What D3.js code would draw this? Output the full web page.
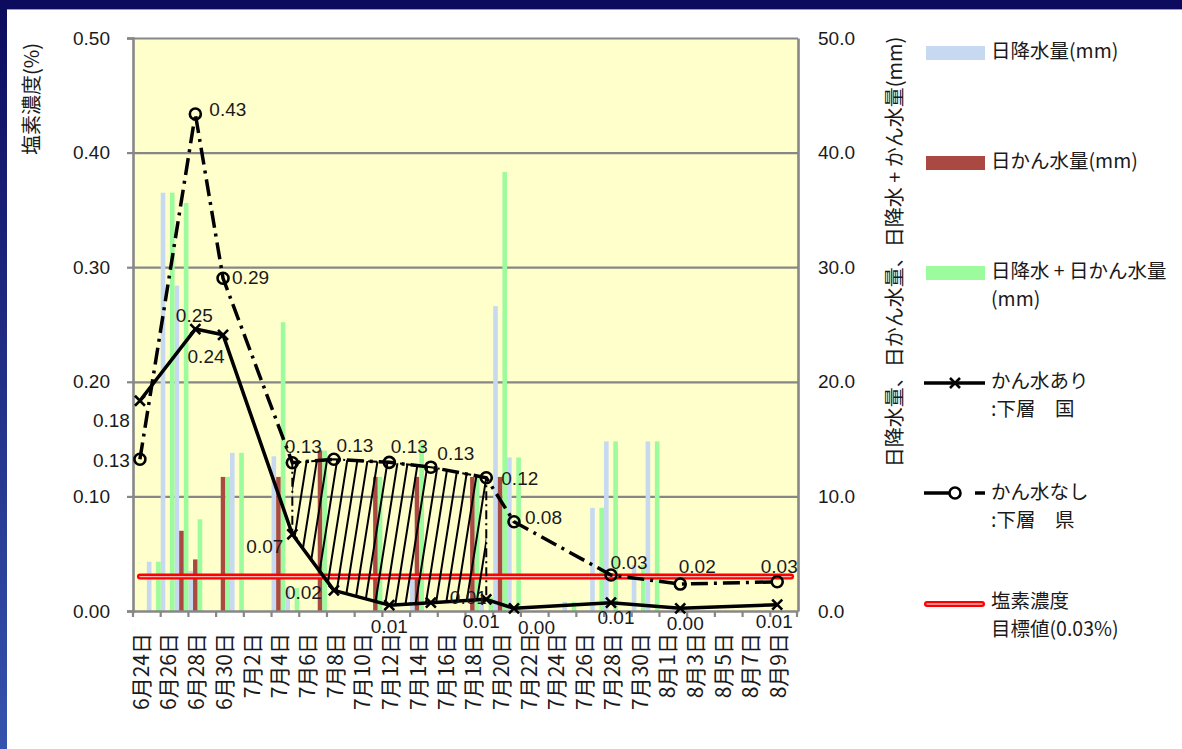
<!DOCTYPE html>
<html>
<head>
<meta charset="utf-8">
<script src="https://cdn.jsdelivr.net/npm/d3@7"></script>
<style>
  html, body { margin: 0; padding: 0; background: #ffffff; }
  svg { display: block; }
</style>
</head>
<body>
<svg id="chart" width="1182" height="749"></svg>
<script>
// ---- data -------------------------------------------------------------
const dates = [
  "6月24日","6月25日","6月26日","6月27日","6月28日","6月29日","6月30日",
  "7月1日","7月2日","7月3日","7月4日","7月5日","7月6日","7月7日","7月8日","7月9日",
  "7月10日","7月11日","7月12日","7月13日","7月14日","7月15日","7月16日","7月17日",
  "7月18日","7月19日","7月20日","7月21日","7月22日","7月23日","7月24日","7月25日",
  "7月26日","7月27日","7月28日","7月29日","7月30日","7月31日",
  "8月1日","8月2日","8月3日","8月4日","8月5日","8月6日","8月7日","8月8日","8月9日","8月10日"
];

// daily rainfall (mm)
const rainfall = [
  0, 4.3, 36.5, 28.4, 3.5, 0, 0,
  13.8, 0, 0, 13.5, 2.0, 0, 0, 0, 0,
  0, 0, 0, 0, 3.0, 0, 0, 0,
  0, 1.2, 26.6, 13.4, 0, 0, 0, 0.8,
  0, 9.0, 14.8, 0, 4.0, 14.8,
  0, 0, 0, 0, 0, 0, 0, 0, 0, 0
];

// daily irrigation (mm)
const irrigation = [
  0, 0, 0, 7.0, 4.5, 0, 11.7,
  0, 0, 0, 11.7, 0, 0, 14.0, 0, 0,
  0, 11.7, 0, 0, 11.7, 0, 0, 0,
  11.7, 0, 11.7, 0, 0, 0, 0, 0,
  0, 0, 0, 0, 0, 0,
  0, 0, 0, 0, 0, 0, 0, 0, 0, 0
];

// daily rainfall + irrigation (mm)
const totalWater = [
  0, 4.3, 36.5, 35.6, 8.0, 0, 11.7,
  13.8, 0, 0, 25.2, 2.0, 0, 14.0, 0, 0,
  0, 11.7, 0, 0, 14.6, 0, 0, 0,
  11.7, 1.2, 38.3, 13.4, 0, 0, 0, 0.8,
  0, 9.0, 14.8, 0, 4.0, 14.8,
  0, 0, 0, 0, 0, 0, 0, 0, 0, 0
];

// chloride concentration of the lower layer (%)
const sampleDates = ["6月24日","6月28日","6月30日","7月5日","7月8日","7月12日",
                     "7月15日","7月19日","7月21日","7月28日","8月2日","8月9日"];
const chlorideIrrigated    = [0.1835, 0.246, 0.241, 0.067, 0.018, 0.0051,
                              0.0073, 0.0102, 0.0023, 0.0073, 0.0023, 0.0055];
const chlorideNotIrrigated = [0.1324, 0.4337, 0.2903, 0.1294, 0.1324, 0.1297,
                              0.1255, 0.1163, 0.0779, 0.0314, 0.0235, 0.0255];

// target chloride level (%)
const targetLevel = 0.03;

// span of the shaded comparison band (index range in sampleDates)
const bandStart = 3, bandEnd = 7;

const leftTicks  = [0, 0.1, 0.2, 0.3, 0.4, 0.5];
const rightTicks = [0, 10, 20, 30, 40, 50];

const leftTitle  = "塩素濃度(%)";
const rightTitle = "日降水量、日かん水量、日降水 + かん水量(mm)";

// ---- layout -----------------------------------------------------------
const svg = d3.select("#chart");
const W = 1182, H = 749;
const M = { left: 133, right: 798, top: 38, bottom: 611 };
const JP = "'Noto Sans CJK JP', 'Noto Sans', sans-serif";
const NUM = "'Liberation Sans', Arial, sans-serif";
const TXT = "#1a1a1a";
const GRID = "#878787";

const colors = { rain: "#c6d9f1", irr: "#aa4842", total: "#9cfb9c" };

const x  = d3.scaleBand().domain(dates).range([M.left, M.right]).paddingInner(0).paddingOuter(0);
const xs = d3.scaleBand().domain(["rain", "irr", "total"]).range([0, x.bandwidth()]);
const yL = d3.scaleLinear().domain([0, 0.5]).range([M.bottom, M.top]);
const yR = d3.scaleLinear().domain([0, 50]).range([M.bottom, M.top]);
const cx = d => x(d) + x.bandwidth() / 2;

// ---- page frame -------------------------------------------------------
const defs = svg.append("defs");
const edge = defs.append("linearGradient").attr("id", "edge")
  .attr("x1", 0).attr("y1", 0).attr("x2", 0).attr("y2", 1);
edge.append("stop").attr("offset", "0%").attr("stop-color", "#0c0b5e");
edge.append("stop").attr("offset", "100%").attr("stop-color", "#3553ae");

const hatch = defs.append("pattern").attr("id", "hatch")
  .attr("patternUnits", "userSpaceOnUse").attr("width", 10).attr("height", 10)
  .attr("patternTransform", "rotate(9)");
hatch.append("line").attr("x1", 5).attr("y1", -1).attr("x2", 5).attr("y2", 11)
  .attr("stroke", "#000").attr("stroke-width", 2);

svg.append("rect").attr("width", W).attr("height", H).attr("fill", "#fff");
svg.append("rect").attr("x", 0).attr("y", 0).attr("width", W).attr("height", 9).attr("fill", "#0c0b5e");
svg.append("rect").attr("x", 0).attr("y", 0).attr("width", 7).attr("height", H).attr("fill", "url(#edge)");
svg.append("line").attr("x1", 7).attr("x2", W).attr("y1", 9.5).attr("y2", 9.5)
  .attr("stroke", "#a0a0a0").attr("stroke-width", 1);

// ---- plot area --------------------------------------------------------
svg.append("rect").attr("x", M.left).attr("y", M.top)
  .attr("width", M.right - M.left).attr("height", M.bottom - M.top).attr("fill", "#ffffcc");

// horizontal gridlines
svg.append("g").attr("transform", `translate(${M.left},0)`)
  .call(d3.axisLeft(yL).tickValues(leftTicks.filter(v => v > 0)).tickSize(-(M.right - M.left)).tickFormat(""))
  .call(g => g.select(".domain").remove())
  .call(g => g.selectAll("line").attr("stroke", GRID).attr("stroke-width", 2.2));

// bars
const barSeries = [
  { key: "rain", values: rainfall },
  { key: "irr", values: irrigation },
  { key: "total", values: totalWater }
];
const barG = svg.append("g");
barSeries.forEach(s => {
  barG.selectAll(null)
    .data(dates.map((d, i) => ({ date: d, v: s.values[i] })).filter(d => d.v > 0))
    .join("rect")
    .attr("x", d => x(d.date) + xs(s.key))
    .attr("width", xs.bandwidth())
    .attr("y", d => yR(d.v))
    .attr("height", d => yR(0) - yR(d.v))
    .attr("fill", colors[s.key]);
});

// left axis
svg.append("g").attr("transform", `translate(${M.left},0)`)
  .call(d3.axisLeft(yL).tickValues(leftTicks).tickSize(6).tickPadding(17).tickFormat(d3.format(".2f")))
  .call(g => g.select(".domain").attr("stroke", GRID).attr("stroke-width", 2.6))
  .call(g => g.selectAll(".tick line").attr("stroke", GRID).attr("stroke-width", 2.2))
  .call(g => g.selectAll("text").attr("fill", TXT).style("font-family", NUM).style("font-size", "19px"));

// right axis
svg.append("g").attr("transform", `translate(${M.right},0)`)
  .call(d3.axisRight(yR).tickValues(rightTicks).tickSize(0).tickPadding(20).tickFormat(d3.format(".1f")))
  .call(g => g.select(".domain").attr("stroke", GRID).attr("stroke-width", 2.6))
  .call(g => g.selectAll("text").attr("fill", TXT).style("font-family", NUM).style("font-size", "19px"));

// bottom axis: labels on every second day, ticks at day boundaries
const labelDates = dates.filter((d, i) => i % 2 === 0 && i < dates.length - 1);
const xAxisG = svg.append("g").attr("transform", `translate(0,${M.bottom})`)
  .call(d3.axisBottom(x).tickValues(labelDates).tickSize(6).tickSizeOuter(0))
  .call(g => g.select(".domain").attr("stroke", GRID).attr("stroke-width", 2.6))
  .call(g => g.selectAll(".tick line")
    .attr("x1", -x.bandwidth() / 2).attr("x2", -x.bandwidth() / 2)
    .attr("stroke", GRID).attr("stroke-width", 2.2))
  .call(g => g.selectAll("text")
    .attr("transform", "rotate(-90)")
    .attr("x", -22).attr("y", 0).attr("dy", "0.42em")
    .style("text-anchor", "end")
    .attr("fill", TXT)
    .style("font-family", JP).style("font-size", "21px"));
xAxisG.append("line")
  .attr("x1", M.right - 1).attr("x2", M.right - 1).attr("y1", 0).attr("y2", 6)
  .attr("stroke", GRID).attr("stroke-width", 2.2);

// target level line (double red stroke)
const targetLine = d3.line().x(d => cx(d)).y(() => yL(targetLevel));
svg.append("path").attr("d", targetLine(dates))
  .attr("fill", "none").attr("stroke", "#ff0000").attr("stroke-width", 6).attr("stroke-linecap", "round");
svg.append("path").attr("d", targetLine(dates))
  .attr("fill", "none").attr("stroke", "#ffb4b4").attr("stroke-width", 1.4).attr("stroke-linecap", "round");

// chloride lines
const irrPts = sampleDates.map((d, i) => ({ date: d, v: chlorideIrrigated[i] }));
const nonPts = sampleDates.map((d, i) => ({ date: d, v: chlorideNotIrrigated[i] }));
const line = d3.line().x(d => cx(d.date)).y(d => yL(d.v));

svg.append("path").attr("d", line(irrPts))
  .attr("fill", "none").attr("stroke", "#000").attr("stroke-width", 3.5).attr("stroke-linejoin", "round");
svg.append("path").attr("d", line(nonPts))
  .attr("fill", "none").attr("stroke", "#000").attr("stroke-width", 3.5)
  .attr("stroke-dasharray", "17,6,3,6");

// shaded difference band between the two series
const bandPts = nonPts.slice(bandStart, bandEnd + 1)
  .concat(irrPts.slice(bandStart, bandEnd + 1).reverse());
svg.append("path").attr("d", line(bandPts) + "Z")
  .attr("fill", "url(#hatch)").attr("stroke", "#000").attr("stroke-width", 2)
  .attr("stroke-dasharray", "9,4,2,4");

// markers
svg.append("g").selectAll("path").data(irrPts).join("path")
  .attr("transform", d => `translate(${cx(d.date)},${yL(d.v)})`)
  .attr("d", "M-5,-5L5,5M-5,5L5,-5")
  .attr("stroke", "#000").attr("stroke-width", 2.6).attr("fill", "none");
svg.append("g").selectAll("circle").data(nonPts).join("circle")
  .attr("cx", d => cx(d.date)).attr("cy", d => yL(d.v)).attr("r", 5.5)
  .attr("stroke", "#000").attr("stroke-width", 2.6).attr("fill", "none");

// data labels
const fmt = d3.format(".2f");
const irrLabelPos = [[-10,19,"end"],[-1,-14,"middle"],[-17,21,"middle"],[-9,12,"end"],
                     [-12,2,"end"],[0,21,"middle"],[19,-5,"start"],[-5,22,"middle"],
                     [4,19,"start"],[5,15,"middle"],[5,15,"middle"],[-3,16,"middle"]];
const nonLabelPos = [[-10,1,"end"],[14,-5,"start"],[9,-1,"start"],[11,-17,"middle"],
                     [21,-14,"middle"],[20,-16,"middle"],[25,-14,"middle"],[15,0,"start"],
                     [11,-5,"start"],[18,-13,"middle"],[17,-18,"middle"],[2,-16,"middle"]];
function drawLabels(pts, pos) {
  svg.append("g").selectAll("text").data(pts).join("text")
    .attr("x", (d, i) => cx(d.date) + pos[i][0])
    .attr("y", (d, i) => yL(d.v) + pos[i][1])
    .attr("dy", "0.36em")
    .attr("text-anchor", (d, i) => pos[i][2])
    .attr("fill", TXT)
    .style("font-family", NUM).style("font-size", "19px")
    .text(d => fmt(d.v));
}
drawLabels(irrPts, irrLabelPos);
drawLabels(nonPts, nonLabelPos);

// axis titles
svg.append("text")
  .attr("transform", "translate(32,99) rotate(-90)")
  .attr("text-anchor", "middle").attr("dy", "0.36em")
  .attr("fill", TXT).style("font-family", JP).style("font-size", "20px")
  .text(leftTitle);
svg.append("text")
  .attr("transform", "translate(895,252) rotate(-90)")
  .attr("text-anchor", "middle").attr("dy", "0.36em")
  .attr("fill", TXT).style("font-family", JP).style("font-size", "20px")
  .text(rightTitle);

// ---- legend -----------------------------------------------------------
const lg = svg.append("g");
const legendText = (y, lines) => {
  lines.forEach((t, i) => {
    lg.append("text").attr("x", 991).attr("y", y + i * 28).attr("dy", "0.36em")
      .attr("fill", TXT).style("font-family", JP).style("font-size", "19.5px").text(t);
  });
};
[["rain", 53, ["日降水量(mm)"]],
 ["irr", 163, ["日かん水量(mm)"]],
 ["total", 273, ["日降水 + 日かん水量", "(mm)"]]].forEach(([k, y, t]) => {
  lg.append("rect").attr("x", 926).attr("y", y - 7).attr("width", 59).attr("height", 14).attr("fill", colors[k]);
  legendText(y - 2, t);
});

// irrigated line sample
lg.append("line").attr("x1", 924).attr("x2", 985).attr("y1", 383).attr("y2", 383)
  .attr("stroke", "#000").attr("stroke-width", 3.5);
lg.append("path").attr("transform", "translate(955,383)").attr("d", "M-5,-5L5,5M-5,5L5,-5")
  .attr("stroke", "#000").attr("stroke-width", 2.6);
legendText(381, ["かん水あり", ":下層　国"]);

// non-irrigated line sample
lg.append("line").attr("x1", 924).attr("x2", 949).attr("y1", 493).attr("y2", 493)
  .attr("stroke", "#000").attr("stroke-width", 3.5);
lg.append("line").attr("x1", 975).attr("x2", 985).attr("y1", 493).attr("y2", 493)
  .attr("stroke", "#000").attr("stroke-width", 3.5);
lg.append("circle").attr("cx", 955).attr("cy", 493).attr("r", 5.5)
  .attr("stroke", "#000").attr("stroke-width", 2.6).attr("fill", "#fff");
legendText(492, ["かん水なし", ":下層　県"]);

// target line sample
lg.append("line").attr("x1", 927).attr("x2", 982).attr("y1", 604).attr("y2", 604)
  .attr("stroke", "#ff0000").attr("stroke-width", 6).attr("stroke-linecap", "round");
lg.append("line").attr("x1", 927).attr("x2", 982).attr("y1", 604).attr("y2", 604)
  .attr("stroke", "#ffb4b4").attr("stroke-width", 1.4).attr("stroke-linecap", "round");
legendText(601, ["塩素濃度", "目標値(0.03%)"]);
</script>
</body>
</html>
